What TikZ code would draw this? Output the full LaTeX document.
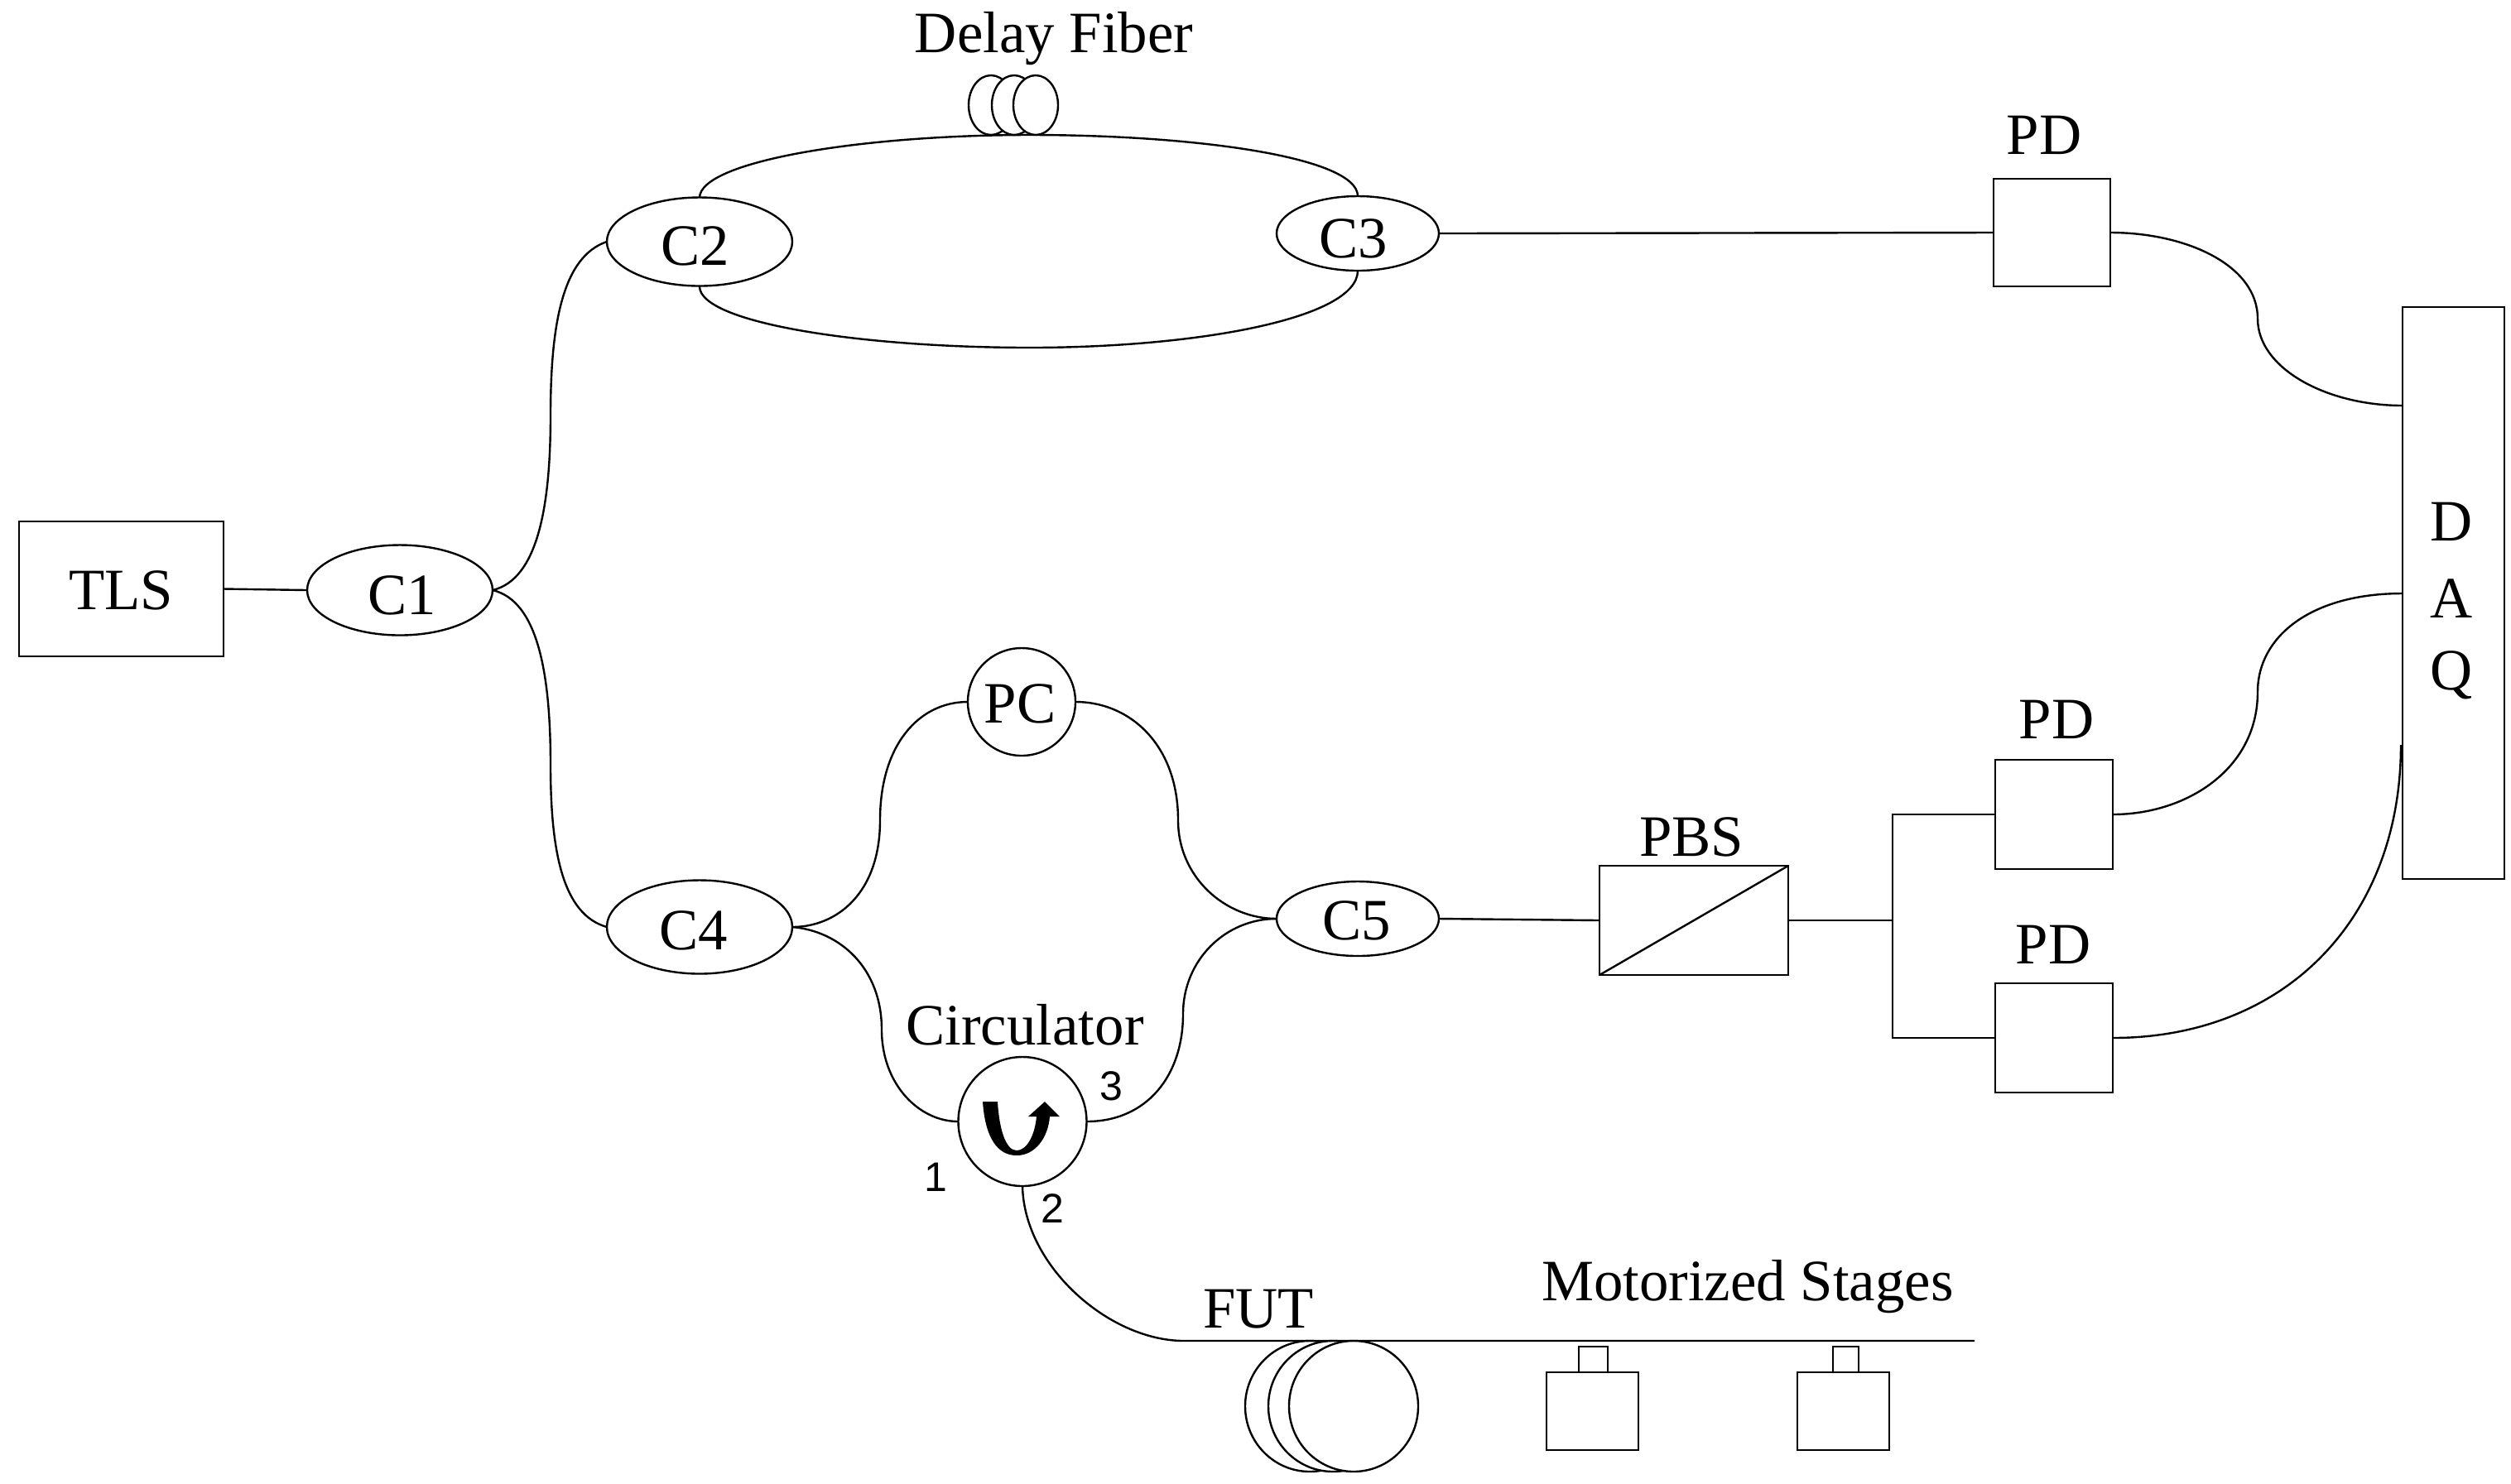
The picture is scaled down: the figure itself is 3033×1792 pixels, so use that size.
\documentclass[tikz,border=0pt]{standalone}
\usepackage{fontspec}
\setmainfont{Liberation Serif}
\newfontfamily\digitfont{Liberation Sans}
\usetikzlibrary{shapes.geometric}
\tikzset{
  sz/.style 2 args={minimum width=#1*0.25pt, minimum height=#2*0.25pt},
  box/.style={draw, rectangle, inner sep=0pt, outer sep=0pt, fill=white},
  oval/.style={draw, ellipse, inner sep=0pt, outer sep=0pt, fill=white},
  txt/.style={inner sep=0pt, font=\fontsize{17.7}{20}\selectfont},
  port/.style={inner sep=0pt, font=\digitfont\fontsize{12.5}{14}\selectfont},
  fiber/.style={line width=0.6pt}
}
\begin{document}
\begin{tikzpicture}[x=0.25pt,y=-0.25pt,line width=0.6pt]
\path[use as bounding box] (0,0) rectangle (3033,1792);

% components
\node[box,sz={247}{163}] (tls) at (146.5,711.5) {};
\node[oval,sz={224}{109}] (c1) at (483,713) {};
\node[oval,sz={224}{107}] (c2) at (845,292) {};
\node[oval,sz={196}{90}] (c3) at (1640,282) {};
\node[oval,sz={224}{113}] (c4) at (845,1120) {};
\node[oval,sz={196}{90}] (c5) at (1640,1110) {};
\node[oval,sz={130}{130}] (pc) at (1234,848) {};
\node[oval,sz={155}{156}] (circ) at (1235,1355) {};
\node[box,sz={228}{132}] (pbs) at (2046,1112) {};
\node[box,sz={141}{130}] (pd1) at (2478.5,281) {};
\node[box,sz={142}{132}] (pd2) at (2481,984) {};
\node[box,sz={142}{132}] (pd3) at (2481,1254) {};
\node[box,sz={123}{691}] (daq) at (2963.5,716.5) {};

% auxiliary points
\coordinate (m1) at (665,502);
\coordinate (m2) at (665,924);
\coordinate (m3) at (2727,385);
\coordinate (m4) at (2727,836);
\coordinate (m5) at (1063,991);
\coordinate (m6) at (1423,991);
\coordinate (m7) at (1065,1244);
\coordinate (m8) at (1429,1225);
\coordinate (topd) at (1244,163);
\coordinate (botd) at (1244,420);
\coordinate (j) at (2286,1112);
\coordinate (ju) at (2286,984);
\coordinate (jd) at (2286,1254);
\coordinate (rail0) at (1430,1620);
\coordinate (rail1) at (2385,1620);
\coordinate (daqa) at (2902,490);
\coordinate (daqb) at (2902,717);
\coordinate (daqc) at (2900,900);
\coordinate (c2t) at (845,239);
\coordinate (c2b) at (845,346);
\coordinate (c3t) at (1640,237);
\coordinate (c3b) at (1640,327);

% connectors
\draw[fiber] (tls.east) -- (c1.west);
\draw[fiber] (c1.east) .. controls (650,700) and (665,610) .. (m1) .. controls (665,390) and (680,310) .. (c2.west);
\draw[fiber] (c1.east) .. controls (650,726) and (665,815) .. (m2) .. controls (665,1030) and (680,1105) .. (c4.west);
\draw[fiber] (c2t) .. controls (845,195) and (1040,163) .. (topd) .. controls (1445,163) and (1640,190) .. (c3t);
\draw[fiber] (c2b) .. controls (845,390) and (1040,420) .. (botd) .. controls (1445,420) and (1640,385) .. (c3b);
\draw[fiber] (c3.east) -- (pd1.west);
\draw[fiber] (pd1.east) .. controls (2640,281) and (2727,320) .. (m3) .. controls (2727,445) and (2810,490) .. (daqa);
\draw[fiber] (pd2.east) .. controls (2640,984) and (2727,930) .. (m4) .. controls (2727,770) and (2790,717) .. (daqb);
\draw[fiber] (pd3.east) .. controls (2760,1254) and (2900,1110) .. (daqc);
\draw[fiber] (c4.east) .. controls (1010,1120) and (1063,1080) .. (m5) .. controls (1063,900) and (1110,848) .. (pc.west);
\draw[fiber] (pc.east) .. controls (1365,848) and (1423,900) .. (m6) .. controls (1423,1060) and (1480,1110) .. (c5.west);
\draw[fiber] (c4.east) .. controls (1015,1125) and (1065,1170) .. (m7) .. controls (1065,1310) and (1110,1355) .. (circ.west);
\draw[fiber] (circ.east) .. controls (1385,1355) and (1429,1300) .. (m8) .. controls (1429,1160) and (1480,1110) .. (c5.west);
\draw[fiber] (c5.east) -- (pbs.west);
\draw[fiber] (pbs.south west) -- (pbs.north east);
\draw[fiber] (pbs.east) -- (j);
\draw[fiber] (pd2.west) -- (ju) -- (jd) -- (pd3.west);
\draw[fiber] (circ.south) .. controls (1237,1530) and (1340,1620) .. (rail0) -- (rail1);

% delay coil
\node[oval,sz={54}{72}] (d1) at (1197,127) {};
\node[oval,sz={54}{72}] (d2) at (1225,127) {};
\node[oval,sz={54}{72}] (d3) at (1251,127) {};

% FUT spool
\node[oval,sz={156}{158}] (f1) at (1582,1699) {};
\node[oval,sz={156}{158}] (f2) at (1610,1699) {};
\node[oval,sz={156}{158}] (f3) at (1635,1699) {};

% stages
\node[box,sz={111}{94}] (s1) at (1923.5,1705) {};
\node[box,sz={35}{31}] (s1t) at (1924.5,1642.5) {};
\node[box,sz={111}{94}] (s2) at (2226.5,1705) {};
\node[box,sz={31}{31}] (s2t) at (2229.5,1642.5) {};

% circulator arrow
\fill (1187,1331) .. controls (1190,1375) and (1205,1396) .. (1228,1396)
  .. controls (1250,1396) and (1266,1375) .. (1268,1349)
  -- (1280,1349) -- (1262,1331) -- (1242,1349) -- (1252,1349)
  .. controls (1250,1372) and (1240,1390) .. (1228,1390)
  .. controls (1215,1390) and (1207,1365) .. (1205,1331) -- cycle;

% labels
\node[txt] (ltls) at (146,713) {TLS};
\node[txt] (lc1) at (486,719) {C1};
\node[txt] (lc2) at (840,297) {C2};
\node[txt] (lc3) at (1635,288) {C3};
\node[txt] (lc4) at (838,1124) {C4};
\node[txt] (lc5) at (1639,1112) {C5};
\node[txt] (lpc) at (1232,850) {PC};
\node[txt] (ldelay) at (1273,47) {Delay Fiber};
\node[txt] (lpd1) at (2469,163) {PD};
\node[txt] (lpd2) at (2484,869) {PD};
\node[txt] (lpd3) at (2480,1141) {PD};
\node[txt] (lpbs) at (2043,1011) {PBS};
\node[txt] (ld) at (2961,630) {D};
\node[txt] (la) at (2961,723) {A};
\node[txt] (lq) at (2961,816) {Q};
\node[txt] (lcirc) at (1238,1238) {Circulator};
\node[txt] (lfut) at (1520,1582) {FUT};
\node[txt] (lms) at (2111,1555) {Motorized Stages};
\node[port] (p1) at (1130,1422) {1};
\node[port] (p2) at (1271,1460) {2};
\node[port] (p3) at (1342,1312) {3};
\end{tikzpicture}
\end{document}
